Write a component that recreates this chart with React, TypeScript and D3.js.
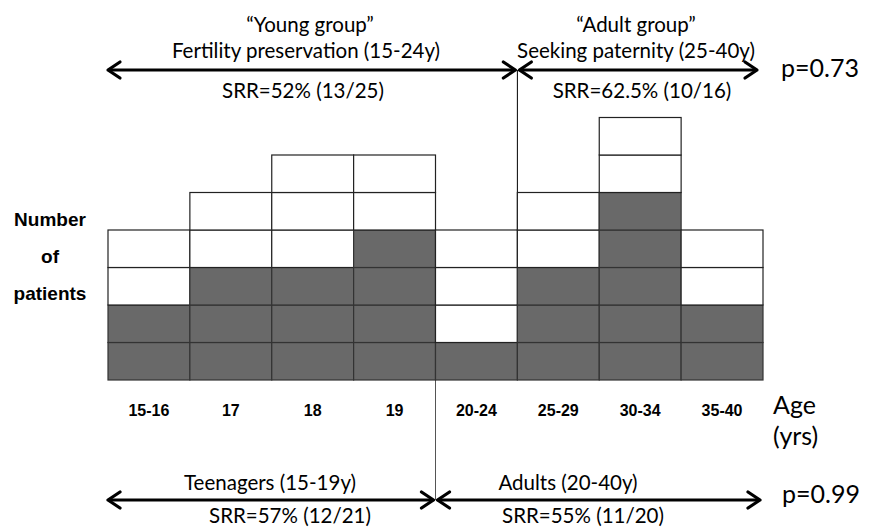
import React from "react";
import * as d3 from "d3";

const categories = ["15-16", "17", "18", "19", "20-24", "25-29", "30-34", "35-40"];
const grayCounts = [2, 3, 3, 4, 1, 3, 5, 2];
const whiteCounts = [2, 2, 3, 2, 3, 2, 2, 2];
const topGroups = [
  { title: "\u201CYoung group\u201D", sub: "Fertility preservation (15-24y)", srr: "SRR=52% (13/25)", from: "15-16", to: "20-24" },
  { title: "\u201CAdult group\u201D", sub: "Seeking paternity (25-40y)", srr: "SRR=62.5% (10/16)", from: "25-29", to: "35-40" },
];
const bottomGroups = [
  { title: "Teenagers (15-19y)", srr: "SRR=57% (12/21)", from: "15-16", to: "19" },
  { title: "Adults (20-40y)", srr: "SRR=55% (11/20)", from: "20-24", to: "35-40" },
];
const pTop = "p=0.73";
const pBottom = "p=0.99";

const W = 870;
const H = 529;
const FONT = "Lato, 'Open Sans', sans-serif";
const BOLD = "'Liberation Sans', Arial, sans-serif";

function Arrow({ x1, x2, y }: { x1: number; x2: number; y: number }) {
  const hl = 12;
  const hw = 8;
  return (
    <g stroke="#000" strokeWidth={3.2} fill="none" strokeLinecap="round" strokeLinejoin="round">
      <line x1={x1 + 1} x2={x2 - 1} y1={y} y2={y} />
      <polyline points={`${x1 + hl},${y - hw} ${x1},${y} ${x1 + hl},${y + hw}`} />
      <polyline points={`${x2 - hl},${y - hw} ${x2},${y} ${x2 - hl},${y + hw}`} />
    </g>
  );
}

export default function App() {
  const x = d3.scaleBand<string>().domain(categories).range([108, 763]).padding(0);
  const y = d3.scaleLinear().domain([0, 7]).range([380, 117.5]);
  const unit = y(0) - y(1);

  const cells: { cat: string; level: number; gray: boolean }[] = [];
  categories.forEach((c, i) => {
    for (let k = 0; k < grayCounts[i]; k++) cells.push({ cat: c, level: k, gray: true });
    for (let k = 0; k < whiteCounts[i]; k++) cells.push({ cat: c, level: grayCounts[i] + k, gray: false });
  });

  const topY = 70;
  const botY = 500;
  const topDiv = x("25-29")!;
  const botDiv = x("20-24")!;

  const topCx = [[310, 306, 303], [636, 636, 642]];
  const botCx = [[270, 290], [568, 583]];

  return (
    <svg width={W} height={H} style={{ position: "absolute", left: 0, top: 0, background: "#fff" }}>
      <rect width={W} height={H} fill="#fff" />
      {/* divider lines */}
      <line x1={topDiv} x2={topDiv} y1={topY} y2={y(0)} stroke="#000" strokeWidth={1} />
      <line x1={botDiv} x2={botDiv} y1={y(0)} y2={botY} stroke="#555" strokeWidth={1} />
      {/* cells */}
      {cells.map((d, i) => (
        <rect
          key={i}
          x={x(d.cat)!}
          y={y(d.level + 1)}
          width={x.bandwidth()}
          height={unit}
          fill={d.gray ? "#696969" : "#fff"}
          stroke={d.gray ? "#333" : "#222"}
          strokeWidth={1.2}
        />
      ))}
      {/* category labels */}
      {categories.map((c) => (
        <text key={c} x={x(c)! + x.bandwidth() / 2} y={416} textAnchor="middle" fontFamily={BOLD} fontWeight="bold" fontSize={16} fill="#000">
          {c}
        </text>
      ))}
      {/* y label */}
      <g fontFamily={BOLD} fontWeight="bold" fontSize={19} fill="#000" textAnchor="middle">
        <text x={50} y={226}>Number</text>
        <text x={50} y={263}>of</text>
        <text x={50} y={300}>patients</text>
      </g>
      <g fontFamily={FONT} fontSize={25} fill="#000">
        <text x={773} y={414}>Age</text>
        <text x={773} y={445}>(yrs)</text>
        <text x={781} y={77}>{pTop}</text>
        <text x={782} y={503}>{pBottom}</text>
      </g>
      {/* top brackets */}
      {topGroups.map((g, i) => {
        const a = x(g.from)!;
        const b = x(g.to)! + x.bandwidth();
        const x1 = i === 0 ? a : topDiv + 2;
        const x2 = i === 0 ? topDiv - 2 : b - 6;
        return (
          <g key={g.title} fontFamily={FONT} fontSize={20.5} fill="#000" textAnchor="middle">
            <Arrow x1={x1} x2={x2} y={topY} />
            <text x={topCx[i][0]} y={32}>{g.title}</text>
            <text x={topCx[i][1]} y={58}>{g.sub}</text>
            <text x={topCx[i][2]} y={98}>{g.srr}</text>
          </g>
        );
      })}
      {/* bottom brackets */}
      {bottomGroups.map((g, i) => {
        const a = x(g.from)!;
        const b = x(g.to)! + x.bandwidth();
        const x1 = i === 0 ? a : botDiv + 2;
        const x2 = i === 0 ? botDiv - 2 : b - 3;
        return (
          <g key={g.title} fontFamily={FONT} fontSize={20.5} fill="#000" textAnchor="middle">
            <Arrow x1={x1} x2={x2} y={botY} />
            <text x={botCx[i][0]} y={490}>{g.title}</text>
            <text x={botCx[i][1]} y={523}>{g.srr}</text>
          </g>
        );
      })}
    </svg>
  );
}
